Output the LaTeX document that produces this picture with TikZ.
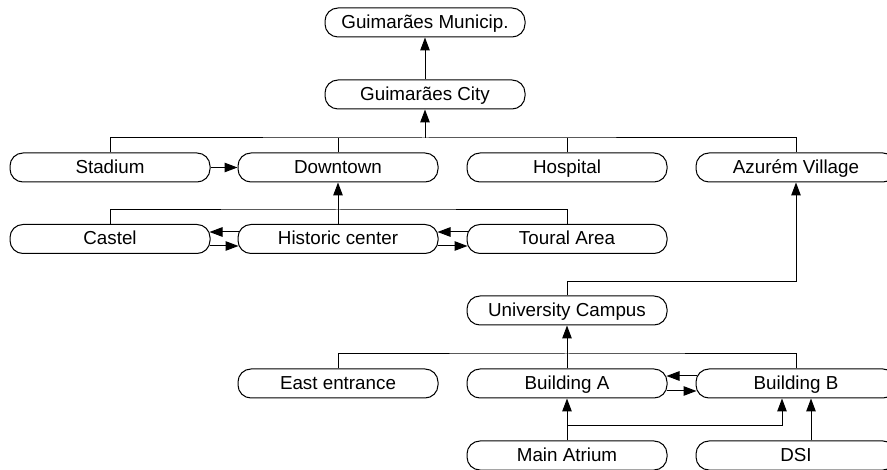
\documentclass[tikz,border=0pt]{standalone}
\usepackage{fontspec}
\setmainfont{Liberation Sans}
\usetikzlibrary{arrows.meta,calc}
\begin{document}
\begin{tikzpicture}[x=1pt,y=-1pt,
  box/.style={draw, line width=1pt, rounded corners=13pt, minimum width=200pt, minimum height=29pt, inner sep=0pt, text height=14pt, text depth=2.4pt, font=\fontsize{18.8}{22}\selectfont},
  conn/.style={line width=1pt},
  arr/.style={line width=1pt, -{Triangle[length=13pt,width=9.5pt]}}]
\clip (0,0) rectangle (887,470);
\node[box] (mun) at (425,22.5) {Guimarães Municip.};
\node[box] (city) at (425,94.5) {Guimarães City};
\node[box] (stadium) at (110,167.5) {Stadium};
\node[box] (downtown) at (338,167.5) {Downtown};
\node[box] (hospital) at (567,167.5) {Hospital};
\node[box] (azurem) at (796,167.5) {Azurém Village};
\node[box] (castel) at (110,239) {Castel};
\node[box] (historic) at (338,239) {Historic center};
\node[box] (toural) at (567,239) {Toural Area};
\node[box] (uc) at (567,310.5) {University Campus};
\node[box] (east) at (338,383.5) {East entrance};
\node[box] (bA) at (567,383.5) {Building A};
\node[box] (bB) at (796,383.5) {Building B};
\node[box] (atrium) at (567,455.5) {Main Atrium};
\node[box] (dsi) at (796,455.5) {DSI};
\coordinate (bus1) at (425,138);
\coordinate (bus2) at (338,210);
\coordinate (bus3) at (796,282);
\coordinate (bus4) at (567,354);
\coordinate (bus5) at (567,426);
\draw[arr] (city) -- (mun);
\draw[conn] (stadium.north) |- (bus1) -| (azurem.north);
\draw[conn] (downtown.north) -- (downtown.north |- bus1);
\draw[conn] (hospital.north) -- (hospital.north |- bus1);
\draw[arr] (bus1) -- (city.south);
\draw[arr] (stadium.east) -- (downtown.west);
\draw[conn] (castel.north) |- (bus2) -| (toural.north);
\draw[arr] (historic.north) -- (downtown.south);
\draw[arr] ([xshift=1pt,yshift=7pt]historic.west) -- ([xshift=-1pt,yshift=7pt]castel.east);
\draw[arr] ([xshift=-1pt,yshift=-7pt]castel.east) -- ([xshift=1pt,yshift=-7pt]historic.west);
\draw[arr] ([xshift=1pt,yshift=7pt]toural.west) -- ([xshift=-1pt,yshift=7pt]historic.east);
\draw[arr] ([xshift=-1pt,yshift=-7pt]historic.east) -- ([xshift=1pt,yshift=-7pt]toural.west);
\draw[arr] (uc.north) |- (bus3) -- (azurem.south);
\draw[conn] (east.north) |- (bus4) -| (bB.north);
\draw[arr] (bA.north) -- (uc.south);
\draw[arr] ([xshift=1pt,yshift=7.5pt]bB.west) -- ([xshift=-1pt,yshift=7.5pt]bA.east);
\draw[arr] ([xshift=-1pt,yshift=-7.5pt]bA.east) -- ([xshift=1pt,yshift=-7.5pt]bB.west);
\draw[arr] (atrium.north) -- (bA.south);
\draw[arr] (bus5) -| ([xshift=-14pt]bB.south);
\draw[arr] ([xshift=15pt]dsi.north) -- ([xshift=15pt]bB.south);
\end{tikzpicture}
\end{document}
